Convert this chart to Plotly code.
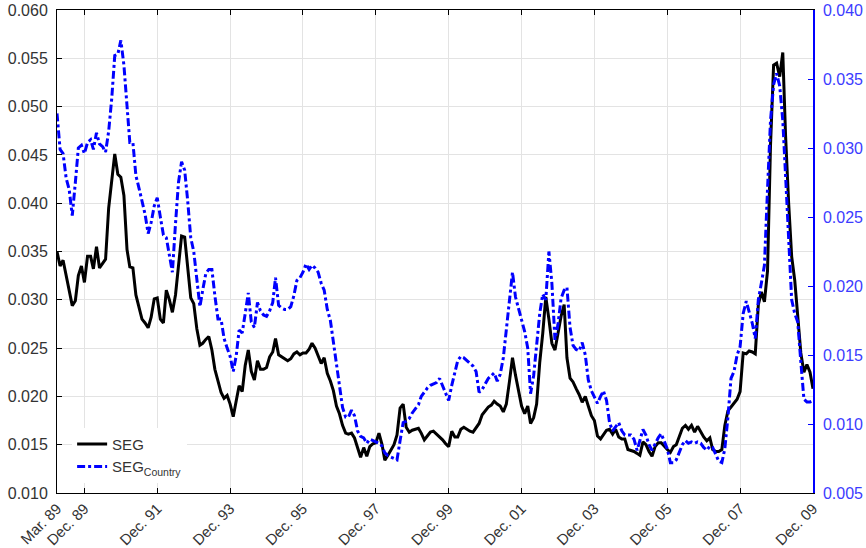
import pandas as pd
import plotly.graph_objects as go

dates = pd.date_range("1989-03-01", periods=250, freq="MS")

seg = [
    0.0350, 0.0335, 0.0341, 0.0325, 0.0310, 0.0294, 0.0299, 0.0325, 0.0335, 0.0318,
    0.0345, 0.0345, 0.0332, 0.0355, 0.0333, 0.0337, 0.0342, 0.0395, 0.0425, 0.0451,
    0.0430, 0.0427, 0.0408, 0.0352, 0.0334, 0.0333, 0.0305, 0.0293, 0.0280, 0.0276,
    0.0271, 0.0282, 0.0301, 0.0302, 0.0280, 0.0276, 0.0310, 0.0300, 0.0287, 0.0305,
    0.0335, 0.0366, 0.0365, 0.0334, 0.0302, 0.0296, 0.0270, 0.0253, 0.0255, 0.0259,
    0.0262, 0.0248, 0.0228, 0.0216, 0.0204, 0.0198, 0.0201, 0.0192, 0.0179, 0.0196,
    0.0211, 0.0205, 0.0232, 0.0248, 0.0226, 0.0217, 0.0237, 0.0228, 0.0228, 0.0230,
    0.0241, 0.0246, 0.0260, 0.0243, 0.0241, 0.0239, 0.0237, 0.0239, 0.0244, 0.0246,
    0.0243, 0.0245, 0.0245, 0.0249, 0.0255, 0.0250, 0.0243, 0.0234, 0.0240, 0.0224,
    0.0216, 0.0206, 0.0190, 0.0182, 0.0170, 0.0162, 0.0161, 0.0162, 0.0157, 0.0147,
    0.0137, 0.0147, 0.0138, 0.0148, 0.0151, 0.0152, 0.0162, 0.0150, 0.0134, 0.0139,
    0.0145, 0.0150, 0.0160, 0.0188, 0.0192, 0.0168, 0.0163, 0.0165, 0.0166, 0.0167,
    0.0162, 0.0155, 0.0159, 0.0163, 0.0164, 0.0161, 0.0158, 0.0155, 0.0151, 0.0148,
    0.0164, 0.0158, 0.0158, 0.0166, 0.0168, 0.0166, 0.0164, 0.0163, 0.0168, 0.0172,
    0.0181, 0.0185, 0.0189, 0.0191, 0.0195, 0.0192, 0.0190, 0.0184, 0.0192, 0.0215,
    0.0240, 0.0222, 0.0204, 0.0190, 0.0182, 0.0190, 0.0172, 0.0178, 0.0192, 0.0235,
    0.0265, 0.0303, 0.0280, 0.0255, 0.0248, 0.0266, 0.0283, 0.0295, 0.0240, 0.0219,
    0.0215, 0.0208, 0.0202, 0.0194, 0.0200, 0.0190, 0.0180, 0.0175, 0.0159, 0.0156,
    0.0161, 0.0165, 0.0166, 0.0161, 0.0166, 0.0158, 0.0156, 0.0156, 0.0145, 0.0144,
    0.0143, 0.0141, 0.0139, 0.0153, 0.0150, 0.0143, 0.0138, 0.0148, 0.0152, 0.0152,
    0.0148, 0.0145, 0.0142, 0.0148, 0.0150, 0.0158, 0.0167, 0.0170, 0.0166, 0.0170,
    0.0163, 0.0169, 0.0163, 0.0158, 0.0154, 0.0157, 0.0145, 0.0143, 0.0143, 0.0145,
    0.0170, 0.0185, 0.0189, 0.0193, 0.0197, 0.0205, 0.0245, 0.0244, 0.0247, 0.0246,
    0.0244, 0.0295, 0.0308, 0.0298, 0.0330, 0.0460, 0.0543, 0.0545, 0.0531, 0.0556,
    0.0470, 0.0400, 0.0345, 0.0320, 0.0280, 0.0245, 0.0225, 0.0233, 0.0225, 0.0208,
]

seg_country = [
    0.0325, 0.0299, 0.0296, 0.0278, 0.0270, 0.0251, 0.0275, 0.0300, 0.0302, 0.0296,
    0.0304, 0.0306, 0.0299, 0.0311, 0.0303, 0.0301, 0.0297, 0.0312, 0.0336, 0.0367,
    0.0368, 0.0378, 0.0360, 0.0330, 0.0304, 0.0304, 0.0280, 0.0271, 0.0262, 0.0252,
    0.0238, 0.0246, 0.0258, 0.0264, 0.0250, 0.0237, 0.0235, 0.0222, 0.0210, 0.0245,
    0.0275, 0.0290, 0.0284, 0.0262, 0.0235, 0.0225, 0.0206, 0.0185, 0.0197, 0.0209,
    0.0212, 0.0212, 0.0193, 0.0176, 0.0176, 0.0162, 0.0155, 0.0149, 0.0138, 0.0150,
    0.0168, 0.0166, 0.0180, 0.0195, 0.0174, 0.0170, 0.0188, 0.0182, 0.0179, 0.0178,
    0.0182, 0.0188, 0.0206, 0.0186, 0.0184, 0.0183, 0.0183, 0.0185, 0.0193, 0.0204,
    0.0206, 0.0210, 0.0216, 0.0212, 0.0215, 0.0213, 0.0210, 0.0202, 0.0197, 0.0183,
    0.0175, 0.0160, 0.0146, 0.0130, 0.0112, 0.0105, 0.0105, 0.0110, 0.0106, 0.0095,
    0.0091, 0.0090, 0.0086, 0.0089, 0.0088, 0.0087, 0.0086, 0.0084, 0.0079, 0.0077,
    0.0076, 0.0075, 0.0074, 0.0088, 0.0101, 0.0102, 0.0104, 0.0108, 0.0111, 0.0114,
    0.0120, 0.0123, 0.0126, 0.0128, 0.0129, 0.0130, 0.0133, 0.0128, 0.0123, 0.0117,
    0.0128, 0.0137, 0.0146, 0.0149, 0.0148, 0.0146, 0.0144, 0.0142, 0.0138, 0.0123,
    0.0125, 0.0129, 0.0133, 0.0135, 0.0137, 0.0131, 0.0136, 0.0148, 0.0170, 0.0192,
    0.0210, 0.0192, 0.0184, 0.0176, 0.0167, 0.0155, 0.0122, 0.0135, 0.0158, 0.0180,
    0.0194, 0.0190, 0.0225, 0.0202, 0.0161, 0.0172, 0.0191, 0.0197, 0.0199, 0.0170,
    0.0157, 0.0154, 0.0153, 0.0159, 0.0150, 0.0132, 0.0124, 0.0120, 0.0115, 0.0120,
    0.0124, 0.0117, 0.0101, 0.0095, 0.0098, 0.0101, 0.0095, 0.0092, 0.0092, 0.0092,
    0.0089, 0.0081, 0.0088, 0.0096, 0.0092, 0.0085, 0.0081, 0.0086, 0.0090, 0.0093,
    0.0088, 0.0082, 0.0072, 0.0072, 0.0074, 0.0080, 0.0085, 0.0088, 0.0086, 0.0087,
    0.0086, 0.0087, 0.0086, 0.0083, 0.0081, 0.0084, 0.0083, 0.0078, 0.0073, 0.0072,
    0.0082, 0.0105, 0.0133, 0.0138, 0.0150, 0.0156, 0.0180, 0.0189, 0.0182, 0.0173,
    0.0162, 0.0190, 0.0202, 0.0215, 0.0270, 0.0320, 0.0346, 0.0354, 0.0345, 0.0320,
    0.0280, 0.0230, 0.0190, 0.0180, 0.0174, 0.0145, 0.0118, 0.0116, 0.0116, 0.0117,
]

tick_dates = ["1989-03-01", "1989-12-01", "1991-12-01", "1993-12-01", "1995-12-01",
              "1997-12-01", "1999-12-01", "2001-12-01", "2003-12-01", "2005-12-01",
              "2007-12-01", "2009-12-01"]
tick_labels = ["Mar. 89", "Dec. 89", "Dec. 91", "Dec. 93", "Dec. 95", "Dec. 97",
               "Dec. 99", "Dec. 01", "Dec. 03", "Dec. 05", "Dec. 07", "Dec. 09"]

left_ticks = [0.010, 0.015, 0.020, 0.025, 0.030, 0.035, 0.040, 0.045, 0.050, 0.055, 0.060]
right_ticks = [0.005, 0.010, 0.015, 0.020, 0.025, 0.030, 0.035, 0.040]

FONT = "Liberation Sans"
BLUE = "#0000ff"
TXT = "#333333"

fig = go.Figure()
fig.add_trace(go.Scatter(x=dates, y=seg, mode="lines", name="SEG",
                         line=dict(color="black", width=3)))
fig.add_trace(go.Scatter(x=dates, y=seg_country, mode="lines", name="SEG<sub>Country</sub>",
                         yaxis="y2",
                         line=dict(color=BLUE, width=3, dash="8px,3px,3px,3px")))

fig.update_layout(
    width=866, height=548,
    margin=dict(l=57, r=53, t=10, b=55, autoexpand=False),
    paper_bgcolor="white", plot_bgcolor="white",
    font=dict(family=FONT, size=15, color=TXT),
    showlegend=True,
    legend=dict(x=0.02, y=0.135, xanchor="left", yanchor="top",
                bgcolor="white", borderwidth=0, itemwidth=30,
                font=dict(family=FONT, size=15, color=TXT),
                tracegroupgap=0),
    xaxis=dict(type="date", automargin=False,
               range=["1989-03-01", "2009-12-01"],
               tickmode="array", tickvals=tick_dates, ticktext=tick_labels,
               tickangle=-45, ticks="inside", ticklen=5, tickcolor="black",
               showline=True, linecolor="black", linewidth=1, mirror="ticks",
               showgrid=True, gridcolor="#e3e3e3", gridwidth=1,
               zeroline=False,
               tickfont=dict(family=FONT, size=15, color=TXT)),
    yaxis=dict(range=[0.010, 0.060], tickmode="array", tickvals=left_ticks,
               automargin=False, ticklabelstandoff=5,
               tickformat=".3f", ticks="inside", ticklen=5, tickcolor="black",
               showline=True, linecolor="black", linewidth=1,
               showgrid=True, gridcolor="#e3e3e3", gridwidth=1, zeroline=False,
               tickfont=dict(family=FONT, size=16, color=TXT)),
    yaxis2=dict(range=[0.005, 0.040], tickmode="array", tickvals=right_ticks,
                automargin=False, ticklabelstandoff=5,
                tickformat=".3f", overlaying="y", side="right",
                ticks="inside", ticklen=5, tickcolor=BLUE,
                showline=True, linecolor=BLUE, linewidth=1.5,
                showgrid=False, zeroline=False,
                tickfont=dict(family=FONT, size=16, color="#3c3cff")),
)

fig.write_html("out.html", config={"displayModeBar": False},
               post_script="document.body.style.margin='0';document.body.style.overflow='hidden';")
